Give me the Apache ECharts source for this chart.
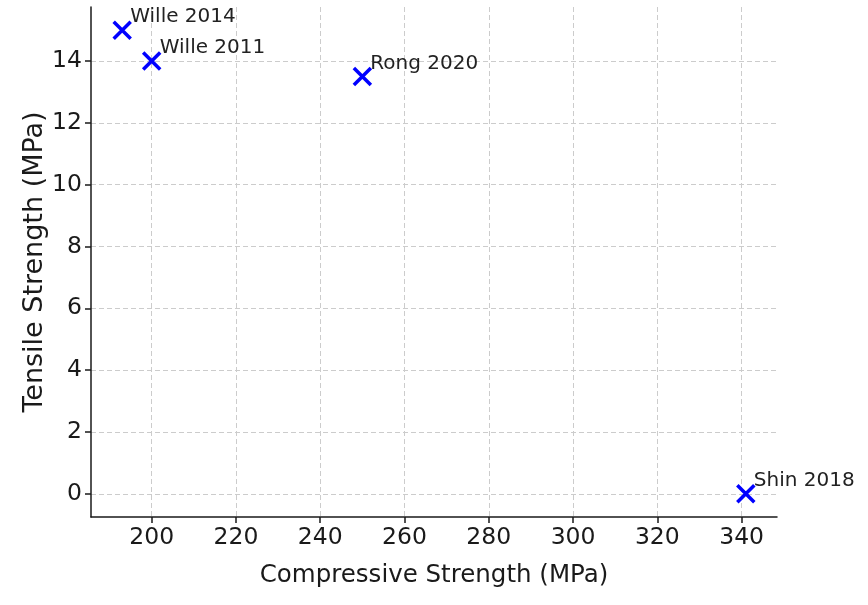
<!DOCTYPE html>
<html>
<head>
<meta charset="utf-8">
<script src="https://cdn.jsdelivr.net/npm/echarts@6/dist/echarts.min.js"></script>
<style>
  html, body { margin: 0; padding: 0; background: #fff; }
  #chart { width: 868px; height: 605px; }
</style>
</head>
<body>
<div id="chart"></div>
<script>
// studies and their strengths (MPa)
var studies = ['Wille 2014', 'Wille 2011', 'Rong 2020', 'Shin 2018']
var compressive = [193, 200, 250, 341]
var tensile = [15, 14, 13.5, 0]
var xTicks = [200, 220, 240, 260, 280, 300, 320, 340]
var yTicks = [0, 2, 4, 6, 8, 10, 12, 14]

var font = 'DejaVu Sans'
var points = studies.map(function (s, i) {
  return { name: s, value: [compressive[i], tensile[i]] }
})

var chart = echarts.init(document.getElementById('chart'))
chart.setOption({
  animation: false,
  grid: { left: 91, right: 91, top: 7, bottom: 88 },
  xAxis: {
    type: 'value',
    min: 185.6,
    max: 348.4,
    name: 'Compressive Strength (MPa)',
    nameLocation: 'middle',
    nameGap: 46,
    nameTextStyle: { fontFamily: font, fontSize: 24.5, color: '#1a1a1a' },
    axisLine: { onZero: false, lineStyle: { color: '#1a1a1a', width: 1.5 } },
    axisTick: { show: true, length: 6, customValues: xTicks, lineStyle: { color: '#1a1a1a', width: 1.5 } },
    axisLabel: { customValues: xTicks, fontFamily: font, fontSize: 23.5, color: '#1a1a1a', margin: 9 },
    splitLine: { show: true, lineStyle: { color: '#cccccc', type: [5, 3], width: 1 } }
  },
  yAxis: {
    type: 'value',
    min: -0.75,
    max: 15.75,
    name: 'Tensile Strength (MPa)',
    nameLocation: 'middle',
    nameMoveOverlap: false,
    nameGap: 43,
    nameTextStyle: { fontFamily: font, fontSize: 27, color: '#1a1a1a' },
    axisLine: { show: true, onZero: false, lineStyle: { color: '#1a1a1a', width: 1.5 } },
    axisTick: { show: true, length: 6, customValues: yTicks, lineStyle: { color: '#1a1a1a', width: 1.5 } },
    axisLabel: { customValues: yTicks, fontFamily: font, fontSize: 23.5, color: '#1a1a1a', margin: 9 },
    splitLine: { show: true, lineStyle: { color: '#cccccc', type: [5, 3], width: 1 } }
  },
  series: [{
    type: 'scatter',
    data: points,
    symbol: 'path://M0,0L10,10M10,0L0,10',
    symbolSize: 17,
    itemStyle: { color: 'none', borderColor: '#0000ff', borderWidth: 3.5, opacity: 1 },
    label: {
      show: true,
      formatter: '{b}',
      position: [19, -2],
      align: 'left',
      verticalAlign: 'middle',
      fontFamily: font,
      fontSize: 20,
      color: '#222222'
    }
  }]
})
</script>
</body>
</html>
